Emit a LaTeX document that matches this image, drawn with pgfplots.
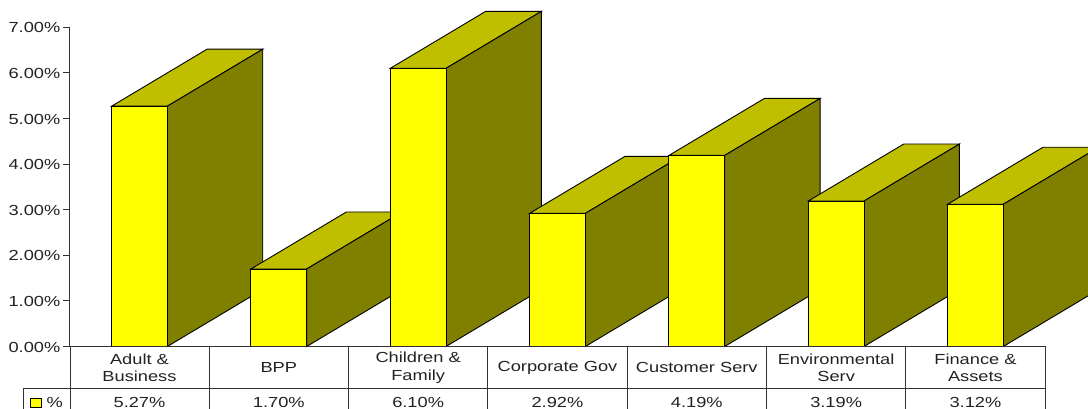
\documentclass[border=0pt]{standalone}
\usepackage{pgfplots}
\pgfplotsset{compat=1.18}
\usepackage{fontspec}
\setmainfont[FakeStretch=1.25]{Liberation Sans}
\definecolor{barfront}{RGB}{255,255,0}
\definecolor{bartop}{RGB}{191,191,0}
\definecolor{barside}{RGB}{128,128,0}
\definecolor{ink}{RGB}{34,34,34}
\definecolor{rule}{RGB}{50,50,50}

% One extruded column: top face, side face, front face, then its two table cells.
\newcommand{\extrudedbar}[3]{%
  \pgfmathsetmacro{\xl}{#1-0.2}%
  \pgfmathsetmacro{\xr}{#1+0.2}%
  \pgfmathsetmacro{\xbl}{\xl+0.685}%
  \pgfmathsetmacro{\xbr}{\xr+0.685}%
  \pgfmathsetmacro{\ytop}{#2+1.25}%
  \addplot[draw=black,line width=0.9pt,fill=bartop] coordinates {(\xl,#2) (\xbl,\ytop) (\xbr,\ytop) (\xr,#2)} -- cycle;
  \addplot[draw=black,line width=0.9pt,fill=barside] coordinates {(\xr,0) (\xbr,1.25) (\xbr,\ytop) (\xr,#2)} -- cycle;
  \addplot[draw=black,line width=0.9pt,fill=barfront] coordinates {(\xl,0) (\xl,#2) (\xr,#2) (\xr,0)} -- cycle;
  \node[font=\fontsize{14.6}{17.5}\selectfont,text=ink,align=center,anchor=center] at (axis cs:#1,-0.47) {#3};
  \node[font=\fontsize{14.6}{17.5}\selectfont,text=ink,anchor=center] at (axis cs:#1,-1.23) {#2\%};
}

\begin{document}
\begin{tikzpicture}[x=1pt,y=1pt]
\path[use as bounding box] (0,0) rectangle (1088,409);
\clip (0,0) rectangle (1088,409);
\begin{axis}[
  at={(70pt,0pt)}, anchor=south west,
  scale only axis, width=1018pt, height=409pt,
  xmin=-0.4987, xmax=6.8078,
  ymin=-1.3706, ymax=7.5987,
  clip=false,
  axis y line=left, axis x line=bottom,
  axis line style={draw=none},
  xtick=\empty,
  ytick={0,1,2,3,4,5,6,7},
  tick align=outside,
  major tick length=7pt,
  ytick style={draw=rule,line width=0.9pt},
  yticklabel={\pgfmathprintnumber{\tick}\%},
  yticklabel style={
    font=\fontsize{14.6}{16}\selectfont, text=ink, inner sep=0pt, xshift=-2.5pt, yshift=-0.6pt,
    /pgf/number format/.cd, fixed, fixed zerofill, precision=2, assume math mode=true},
]
% value axis line
\draw[rule,line width=1pt] (axis cs:-0.4987,0) -- (axis cs:-0.4987,7);

\extrudedbar{0}{5.27}{Adult \&\\Business}
\extrudedbar{1}{1.70}{BPP}
\extrudedbar{2}{6.10}{Children \&\\Family}
\extrudedbar{3}{2.92}{Corporate Gov}
\extrudedbar{4}{4.19}{Customer Serv}
\extrudedbar{5}{3.19}{Environmental\\Serv}
\extrudedbar{6}{3.12}{Finance \&\\Assets}

% data table rules under the plot
\draw[rule,line width=0.9pt] (axis cs:-0.4987,0) -- (axis cs:6.5,0);
\draw[rule,line width=0.9pt] (axis cs:-0.83,-0.921) -- (axis cs:6.5,-0.921);
\draw[rule,line width=0.9pt] (axis cs:-0.83,-0.921) -- (axis cs:-0.83,-1.3706);
\foreach \k in {-0.4987,0.5,1.5,2.5,3.5,4.5,5.5,6.5} {
  \edef\temp{\noexpand\draw[rule,line width=0.9pt] (axis cs:\k,0) -- (axis cs:\k,-1.3706);}
  \temp
}
% legend key in the table's first column
\draw[black,line width=0.9pt,fill=barfront] (axis cs:-0.7855,-1.14) rectangle (axis cs:-0.7065,-1.33);
\node[font=\fontsize{14.6}{16}\selectfont,text=ink] at (axis cs:-0.608,-1.23) {\%};
\end{axis}
\end{tikzpicture}
\end{document}
